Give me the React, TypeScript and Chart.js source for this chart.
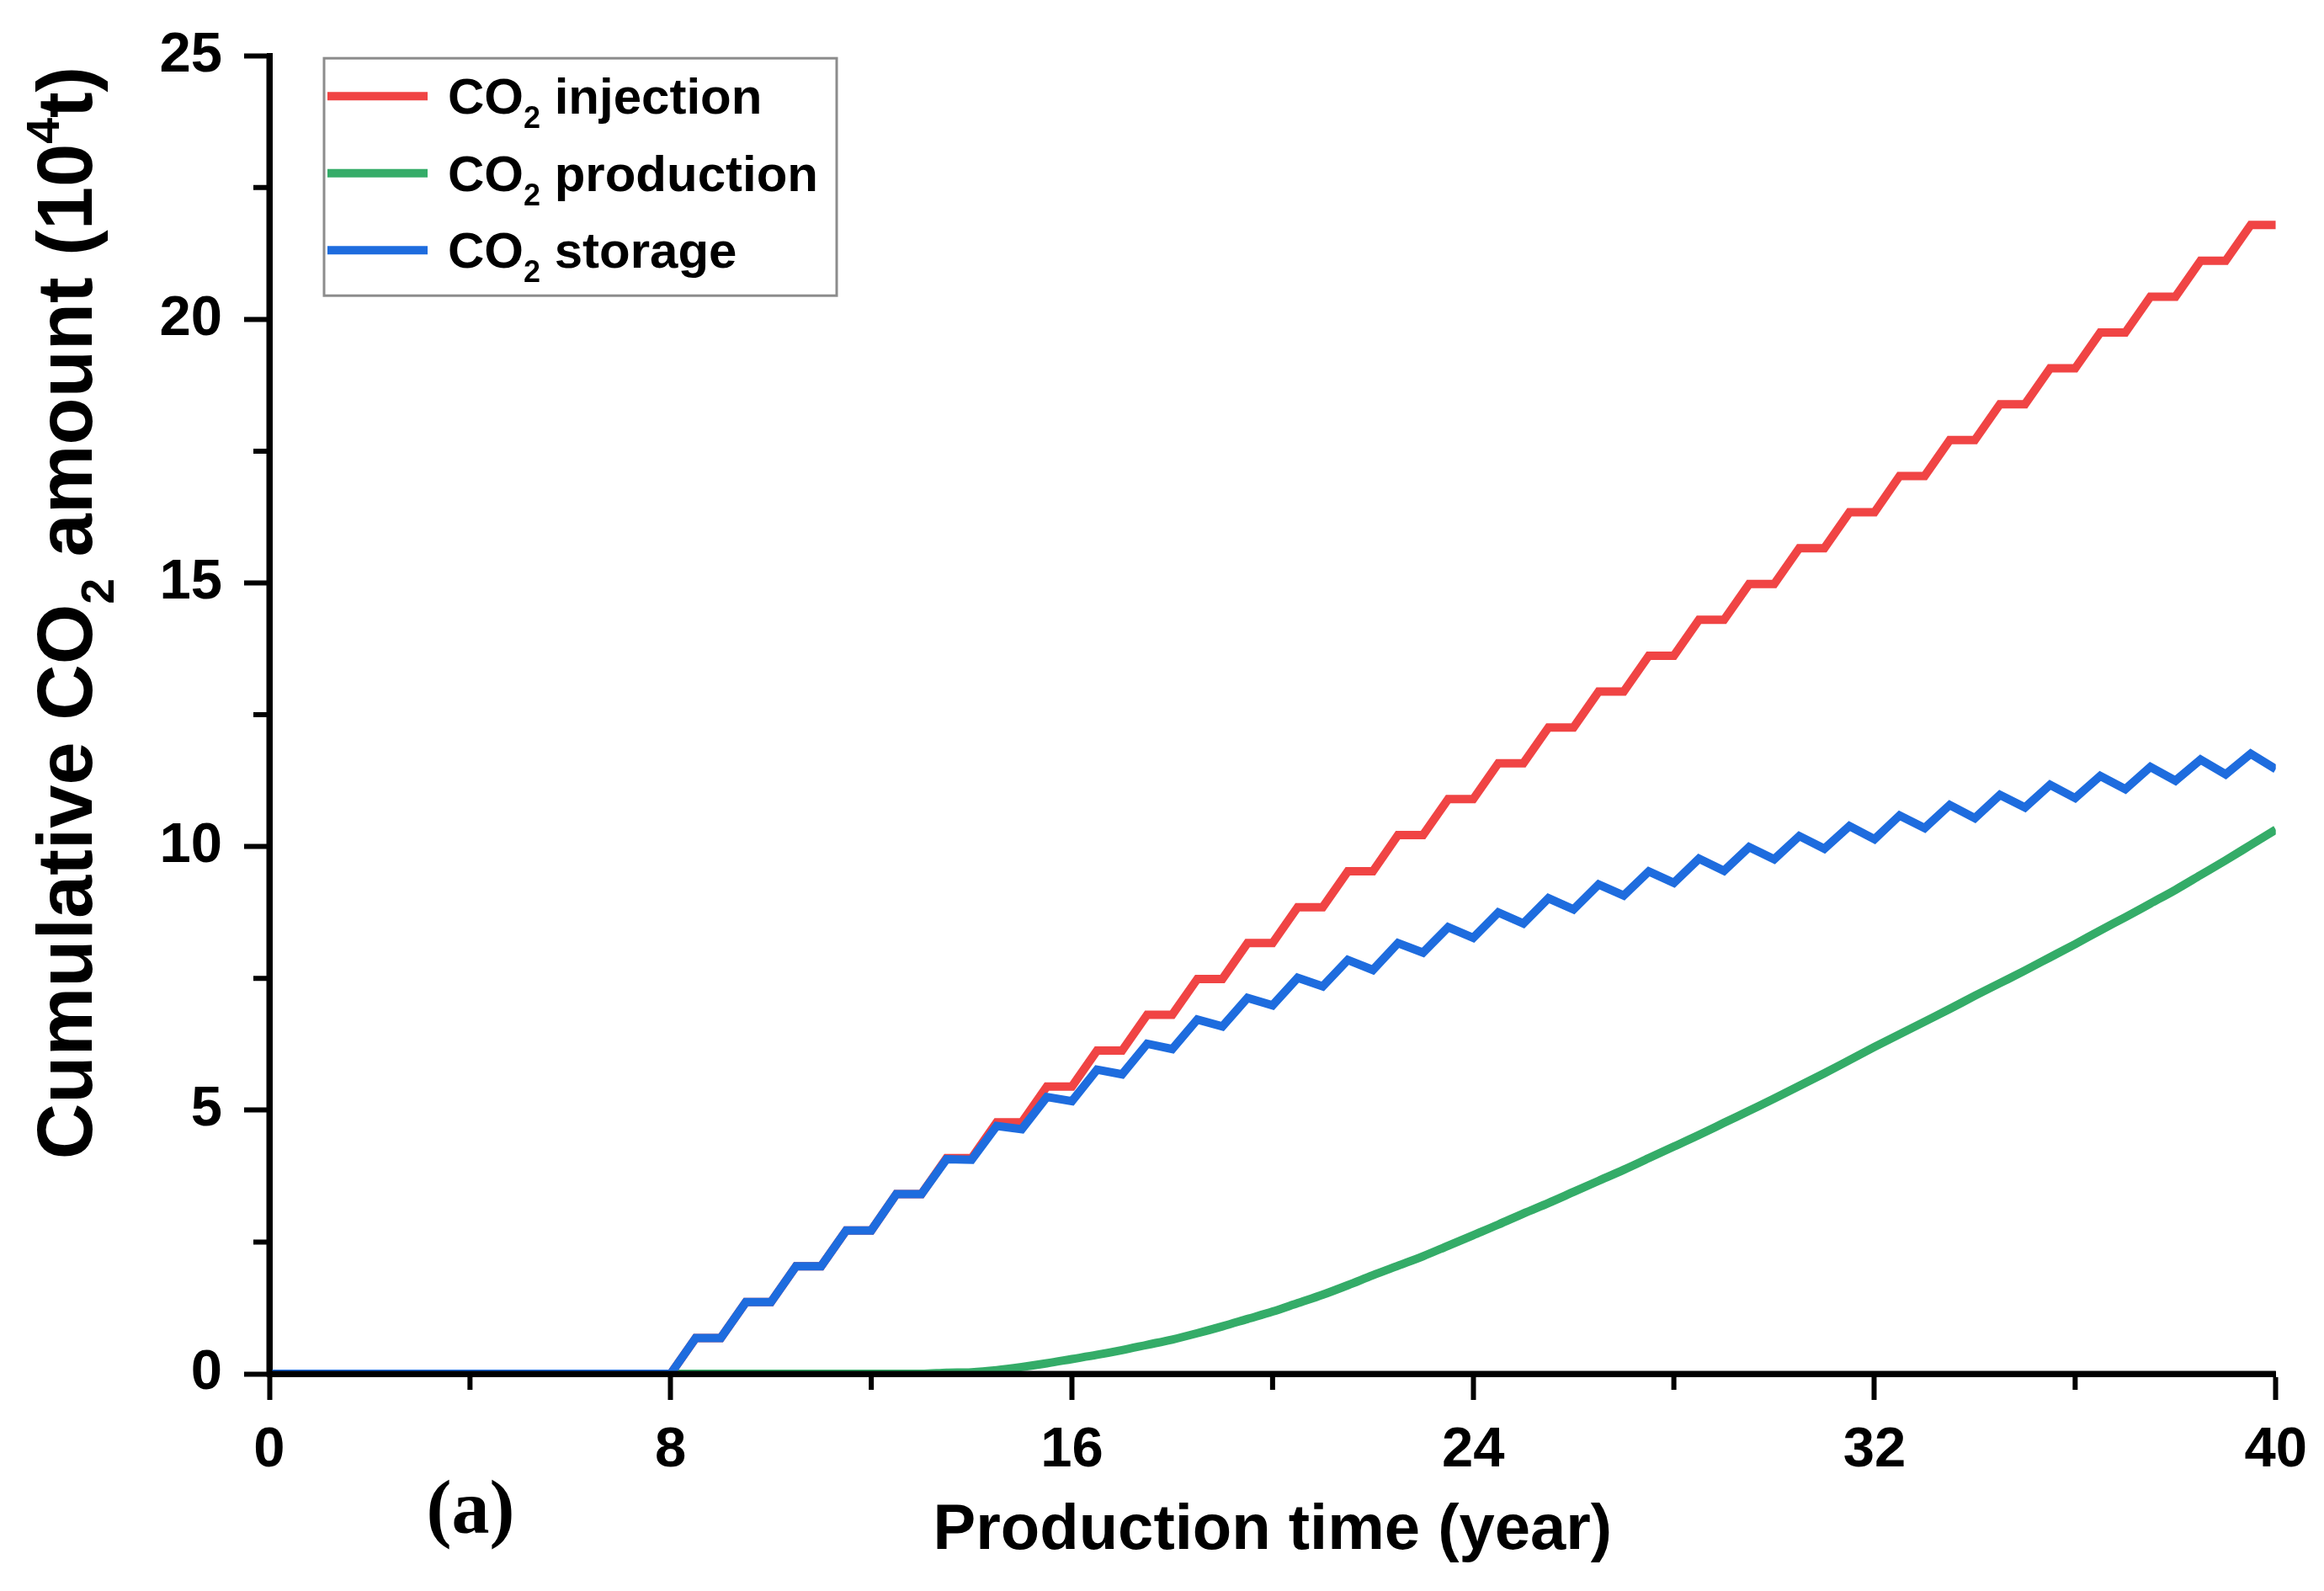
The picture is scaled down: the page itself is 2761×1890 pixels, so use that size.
import React, { useEffect, useRef } from 'react';
import { Chart, registerables } from 'chart.js';

Chart.register(...registerables);

const SANS = "'Liberation Sans', Arial, Helvetica, sans-serif";
const SERIF = "'Liberation Serif', 'Times New Roman', serif";

// Production time (year)
const years = [
  0, 8, 8.5, 9, 9.5, 10, 10.5, 11, 11.5, 12, 12.5, 13, 13.5, 14, 14.5, 15, 15.5, 16, 16.5, 17, 17.5, 18,
  18.5, 19, 19.5, 20, 20.5, 21, 21.5, 22, 22.5, 23, 23.5, 24, 24.5, 25, 25.5, 26, 26.5, 27, 27.5, 28, 28.5,
  29, 29.5, 30, 30.5, 31, 31.5, 32, 32.5, 33, 33.5, 34, 34.5, 35, 35.5, 36, 36.5, 37, 37.5, 38, 38.5, 39,
  39.5, 40,
];

// Cumulative CO2 injection (10^4 t)
const injection = [
  0, 0, 0.68, 0.68, 1.36, 1.36, 2.04, 2.04, 2.72, 2.72, 3.41, 3.41, 4.09, 4.09, 4.77, 4.77, 5.45, 5.45,
  6.13, 6.13, 6.81, 6.81, 7.49, 7.49, 8.17, 8.17, 8.85, 8.85, 9.53, 9.53, 10.22, 10.22, 10.9, 10.9, 11.58,
  11.58, 12.26, 12.26, 12.94, 12.94, 13.62, 13.62, 14.3, 14.3, 14.98, 14.98, 15.66, 15.66, 16.34, 16.34,
  17.03, 17.03, 17.71, 17.71, 18.39, 18.39, 19.07, 19.07, 19.75, 19.75, 20.43, 20.43, 21.11, 21.11, 21.79,
  21.79,
];

// Cumulative CO2 production (10^4 t)
const production = [
  0, 0, 0, 0, 0, 0, 0, 0, 0, 0, 0, 0, 0.02, 0.03, 0.07, 0.13, 0.2, 0.28, 0.36, 0.45, 0.55, 0.65, 0.77, 0.9,
  1.04, 1.18, 1.34, 1.5, 1.68, 1.87, 2.05, 2.23, 2.43, 2.63, 2.83, 3.04, 3.24, 3.45, 3.66, 3.87, 4.09, 4.31,
  4.53, 4.76, 4.99, 5.22, 5.46, 5.7, 5.95, 6.2, 6.44, 6.68, 6.92, 7.17, 7.41, 7.65, 7.9, 8.15, 8.41, 8.66,
  8.92, 9.18, 9.46, 9.74, 10.03, 10.32,
];

// Cumulative CO2 storage (10^4 t)
const storage = [
  0, 0, 0.68, 0.68, 1.36, 1.36, 2.04, 2.04, 2.72, 2.72, 3.41, 3.41, 4.07, 4.06, 4.7, 4.64, 5.25, 5.17, 5.77,
  5.68, 6.26, 6.16, 6.72, 6.59, 7.13, 6.99, 7.51, 7.35, 7.85, 7.66, 8.17, 7.99, 8.47, 8.27, 8.75, 8.54, 9.02,
  8.81, 9.28, 9.07, 9.53, 9.31, 9.77, 9.54, 9.99, 9.76, 10.2, 9.96, 10.39, 10.14, 10.59, 10.35, 10.79, 10.54,
  10.98, 10.74, 11.17, 10.92, 11.34, 11.09, 11.51, 11.25, 11.65, 11.37, 11.76, 11.47,
];

const xMinorTicks = [4, 12, 20, 28, 36];
const yMinorTicks = [2.5, 7.5, 12.5, 17.5, 22.5];

const legendNames = [' injection', ' production', ' storage'];
const RED = '#F04444';
const GREEN = '#34AC68';
const BLUE = '#1E6CDE';
const legendColors = [RED, GREEN, BLUE];

type Part = { t: string; k?: 'sub' | 'sup' };

function partFont(p: Part, size: number, family: string) {
  const s = p.k ? size * 0.6 : size;
  return `bold ${s}px ${family}`;
}

function richWidth(ctx: CanvasRenderingContext2D, parts: Part[], size: number, family: string) {
  let w = 0;
  for (const p of parts) {
    ctx.font = partFont(p, size, family);
    w += ctx.measureText(p.t).width;
  }
  return w;
}

function drawRich(
  ctx: CanvasRenderingContext2D,
  parts: Part[],
  x: number,
  y: number,
  size: number,
  family: string,
  align: 'left' | 'center'
) {
  const w = richWidth(ctx, parts, size, family);
  let cx = align === 'center' ? x - w / 2 : x;
  ctx.textAlign = 'left';
  ctx.textBaseline = 'alphabetic';
  for (const p of parts) {
    ctx.font = partFont(p, size, family);
    const dy = p.k === 'sub' ? size * 0.28 : p.k === 'sup' ? -size * 0.42 : 0;
    ctx.fillText(p.t, cx, y + dy);
    cx += ctx.measureText(p.t).width;
  }
}

const decorations = {
  id: 'decorations',
  afterDatasetsDraw(chart: any) {
    const { ctx, chartArea: a, scales } = chart;
    const xs = scales.x;
    const ys = scales.y;
    ctx.save();
    ctx.strokeStyle = '#000';
    ctx.lineCap = 'butt';
    ctx.lineWidth = 7;
    ctx.beginPath();
    ctx.moveTo(a.left - 3.5, a.bottom);
    ctx.lineTo(a.right, a.bottom);
    ctx.moveTo(a.left, a.top);
    ctx.lineTo(a.left, a.bottom + 3.5);
    ctx.stroke();
    ctx.lineWidth = 6;
    ctx.beginPath();
    for (const v of xMinorTicks) {
      const px = xs.getPixelForValue(v);
      ctx.moveTo(px, a.bottom);
      ctx.lineTo(px, a.bottom + 19);
    }
    for (const v of yMinorTicks) {
      const py = ys.getPixelForValue(v);
      ctx.moveTo(a.left, py);
      ctx.lineTo(a.left - 19, py);
    }
    ctx.stroke();
    ctx.restore();
  },
  afterDraw(chart: any) {
    const { ctx, chartArea: a } = chart;
    ctx.save();
    ctx.fillStyle = '#000';

    // legend
    const bx = a.left + 65;
    const by = a.top + 3;
    ctx.strokeStyle = '#8c8c8c';
    ctx.lineWidth = 3;
    ctx.strokeRect(bx, by, 609, 282);
    for (let i = 0; i < legendNames.length; i++) {
      const cy = a.top + 48 + i * 91.5;
      ctx.strokeStyle = legendColors[i];
      ctx.lineWidth = 10;
      ctx.beginPath();
      ctx.moveTo(bx + 4, cy);
      ctx.lineTo(bx + 123, cy);
      ctx.stroke();
      ctx.fillStyle = '#000';
      drawRich(ctx, [{ t: 'CO' }, { t: '2', k: 'sub' }, { t: legendNames[i] }], bx + 147, cy + 21, 60, SANS, 'left');
    }

    // x axis title
    drawRich(ctx, [{ t: 'Production time (year)' }], (a.left + a.right) / 2, 1840, 76, SANS, 'center');

    // y axis title
    ctx.save();
    ctx.translate(109, 728);
    ctx.rotate(-Math.PI / 2);
    drawRich(
      ctx,
      [{ t: 'Cumulative CO' }, { t: '2', k: 'sub' }, { t: ' amount (10' }, { t: '4', k: 'sup' }, { t: 't)' }],
      0,
      0,
      92,
      SANS,
      'center'
    );
    ctx.restore();

    // panel label
    ctx.font = `bold 90px ${SERIF}`;
    ctx.textAlign = 'center';
    ctx.textBaseline = 'alphabetic';
    ctx.fillText('(a)', 559, 1821);
    ctx.restore();
  },
};

export default function App() {
  const ref = useRef<HTMLCanvasElement>(null);

  useEffect(() => {
    document.body.style.margin = '0';
    const toPts = (vals: number[]) => years.map((t, i) => ({ x: t, y: vals[i] }));
    const tickFont = { family: SANS, size: 67, weight: 'bold' as const };
    const chart = new Chart(ref.current as HTMLCanvasElement, {
      type: 'line',
      data: {
        datasets: [
          {
            label: 'CO2 storage',
            data: toPts(storage),
            borderColor: BLUE,
            borderWidth: 10,
            pointRadius: 0,
            tension: 0,
            order: 0,
          },
          {
            label: 'CO2 injection',
            data: toPts(injection),
            borderColor: RED,
            borderWidth: 10,
            pointRadius: 0,
            tension: 0,
            order: 1,
          },
          {
            label: 'CO2 production',
            data: toPts(production),
            borderColor: GREEN,
            borderWidth: 10,
            pointRadius: 0,
            cubicInterpolationMode: 'monotone',
            order: 2,
          },
        ],
      },
      options: {
        animation: false,
        responsive: true,
        maintainAspectRatio: false,
        devicePixelRatio: 1,
        layout: { padding: { top: 62, right: 54, left: 0, bottom: 0 } },
        plugins: { legend: { display: false }, tooltip: { enabled: false } },
        scales: {
          x: {
            type: 'linear',
            min: 0,
            max: 40,
            ticks: { stepSize: 8, font: tickFont, color: '#000', padding: 20, maxRotation: 0, autoSkip: false },
            grid: { drawOnChartArea: false, drawTicks: true, tickLength: 31, tickWidth: 6, tickColor: '#000' },
            border: { display: true, color: '#000', width: 7 },
            afterFit: (s: any) => {
              s.height = 258;
            },
          },
          y: {
            type: 'linear',
            min: 0,
            max: 25,
            ticks: { stepSize: 5, font: tickFont, color: '#000', padding: 26 },
            grid: { drawOnChartArea: false, drawTicks: true, tickLength: 30, tickWidth: 6, tickColor: '#000' },
            border: { display: true, color: '#000', width: 7 },
            afterFit: (s: any) => {
              s.width = 320;
            },
          },
        },
      },
      plugins: [decorations],
    });
    return () => chart.destroy();
  }, []);

  return (
    <div style={{ position: 'relative', width: '2761px', height: '1890px', background: '#fff' }}>
      <canvas ref={ref} />
    </div>
  );
}
